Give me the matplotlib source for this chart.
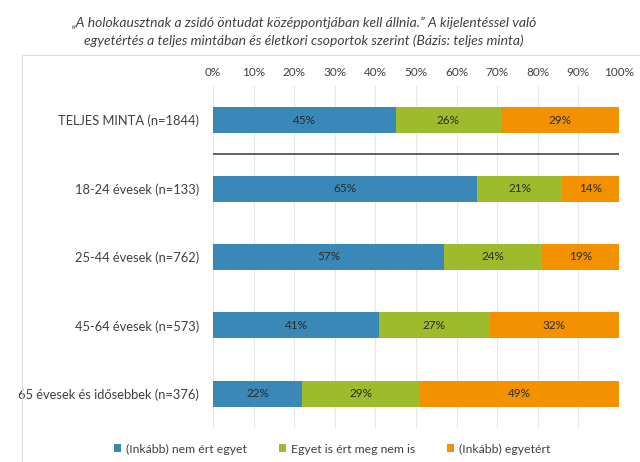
import numpy as np
import matplotlib
matplotlib.use("Agg")
import matplotlib.pyplot as plt
from matplotlib.patches import Rectangle

plt.rcParams['font.family'] = ['Lato', 'DejaVu Sans']

### ---Data
categories = ["TELJES MINTA (n=1844)", "18-24 évesek (n=133)", "25-44 évesek (n=762)",
              "45-64 évesek (n=573)", "65 évesek és idősebbek (n=376)"]
series_names = ["(Inkább) nem ért egyet", "Egyet is ért meg nem is", "(Inkább) egyetért"]
disagree = [45, 65, 57, 41, 22]
neutral = [26, 21, 24, 27, 29]
agree = [29, 14, 19, 32, 49]
xticks = list(range(0, 101, 10))

colors = ["#3a88b8", "#9dbb2b", "#f39200"]
title = ("„A holokausztnak a zsidó öntudat középpontjában kell állnia.” A kijelentéssel való\n"
         "egyetértés a teljes mintában és életkori csoportok szerint (Bázis: teljes minta)")

fig = plt.figure(figsize=(6.4, 4.62), dpi=100)
# chart area frame
fig.patches.append(Rectangle((22/640, -0.01), 1, 1 - 55/462 + 0.01, transform=fig.transFigure,
                             fill=False, edgecolor="#dddddd", linewidth=0.8))
ax = fig.add_axes([213/640, 1 - 428/462, 406/640, 342/462])

y = np.arange(len(categories))
left = np.zeros(len(categories))
for vals, col, name in zip([disagree, neutral, agree], colors, series_names):
	bars = ax.barh(y, vals, left=left, height=0.38, color=col, label=name, zorder=2)
	for b, v in zip(bars, vals):
		ax.text(b.get_x() + b.get_width()/2, b.get_y() + b.get_height()/2, f"{v}%",
			ha="center", va="center", fontsize=8.5, color="#2b2b2b", zorder=3)
	left += np.array(vals)

ax.axhline(0.5, color="#555555", linewidth=1.3, zorder=2)
ax.set_xlim(0, 100)
ax.set_ylim(len(categories) - 0.5, -0.5)
ax.set_xticks(xticks)
ax.set_xticklabels([f"{t}%" for t in xticks])
ax.xaxis.tick_top()
ax.tick_params(axis="x", length=0, pad=6, labelsize=8.5, colors="#404040")
ax.set_yticks(y)
ax.set_yticklabels(categories)
ax.tick_params(axis="y", length=0, pad=10, labelsize=9.3, colors="#404040")
ax.grid(axis="x", color="#e6e6e6", linewidth=0.8, zorder=0)
for s in ax.spines.values():
	s.set_visible(False)

fig.text(0.474, 1 - 32/462, title, ha="center", va="center", fontsize=10,
	style="italic", color="#404040", linespacing=1.45)

fig.legend(loc="center", bbox_to_anchor=(332/640, 1 - 449/462), ncol=3, frameon=False,
	fontsize=8.8, handlelength=0.6, handleheight=0.6, columnspacing=2.6, handletextpad=0.4,
	labelcolor="#404040")

fig.savefig("out.png", dpi=100)
